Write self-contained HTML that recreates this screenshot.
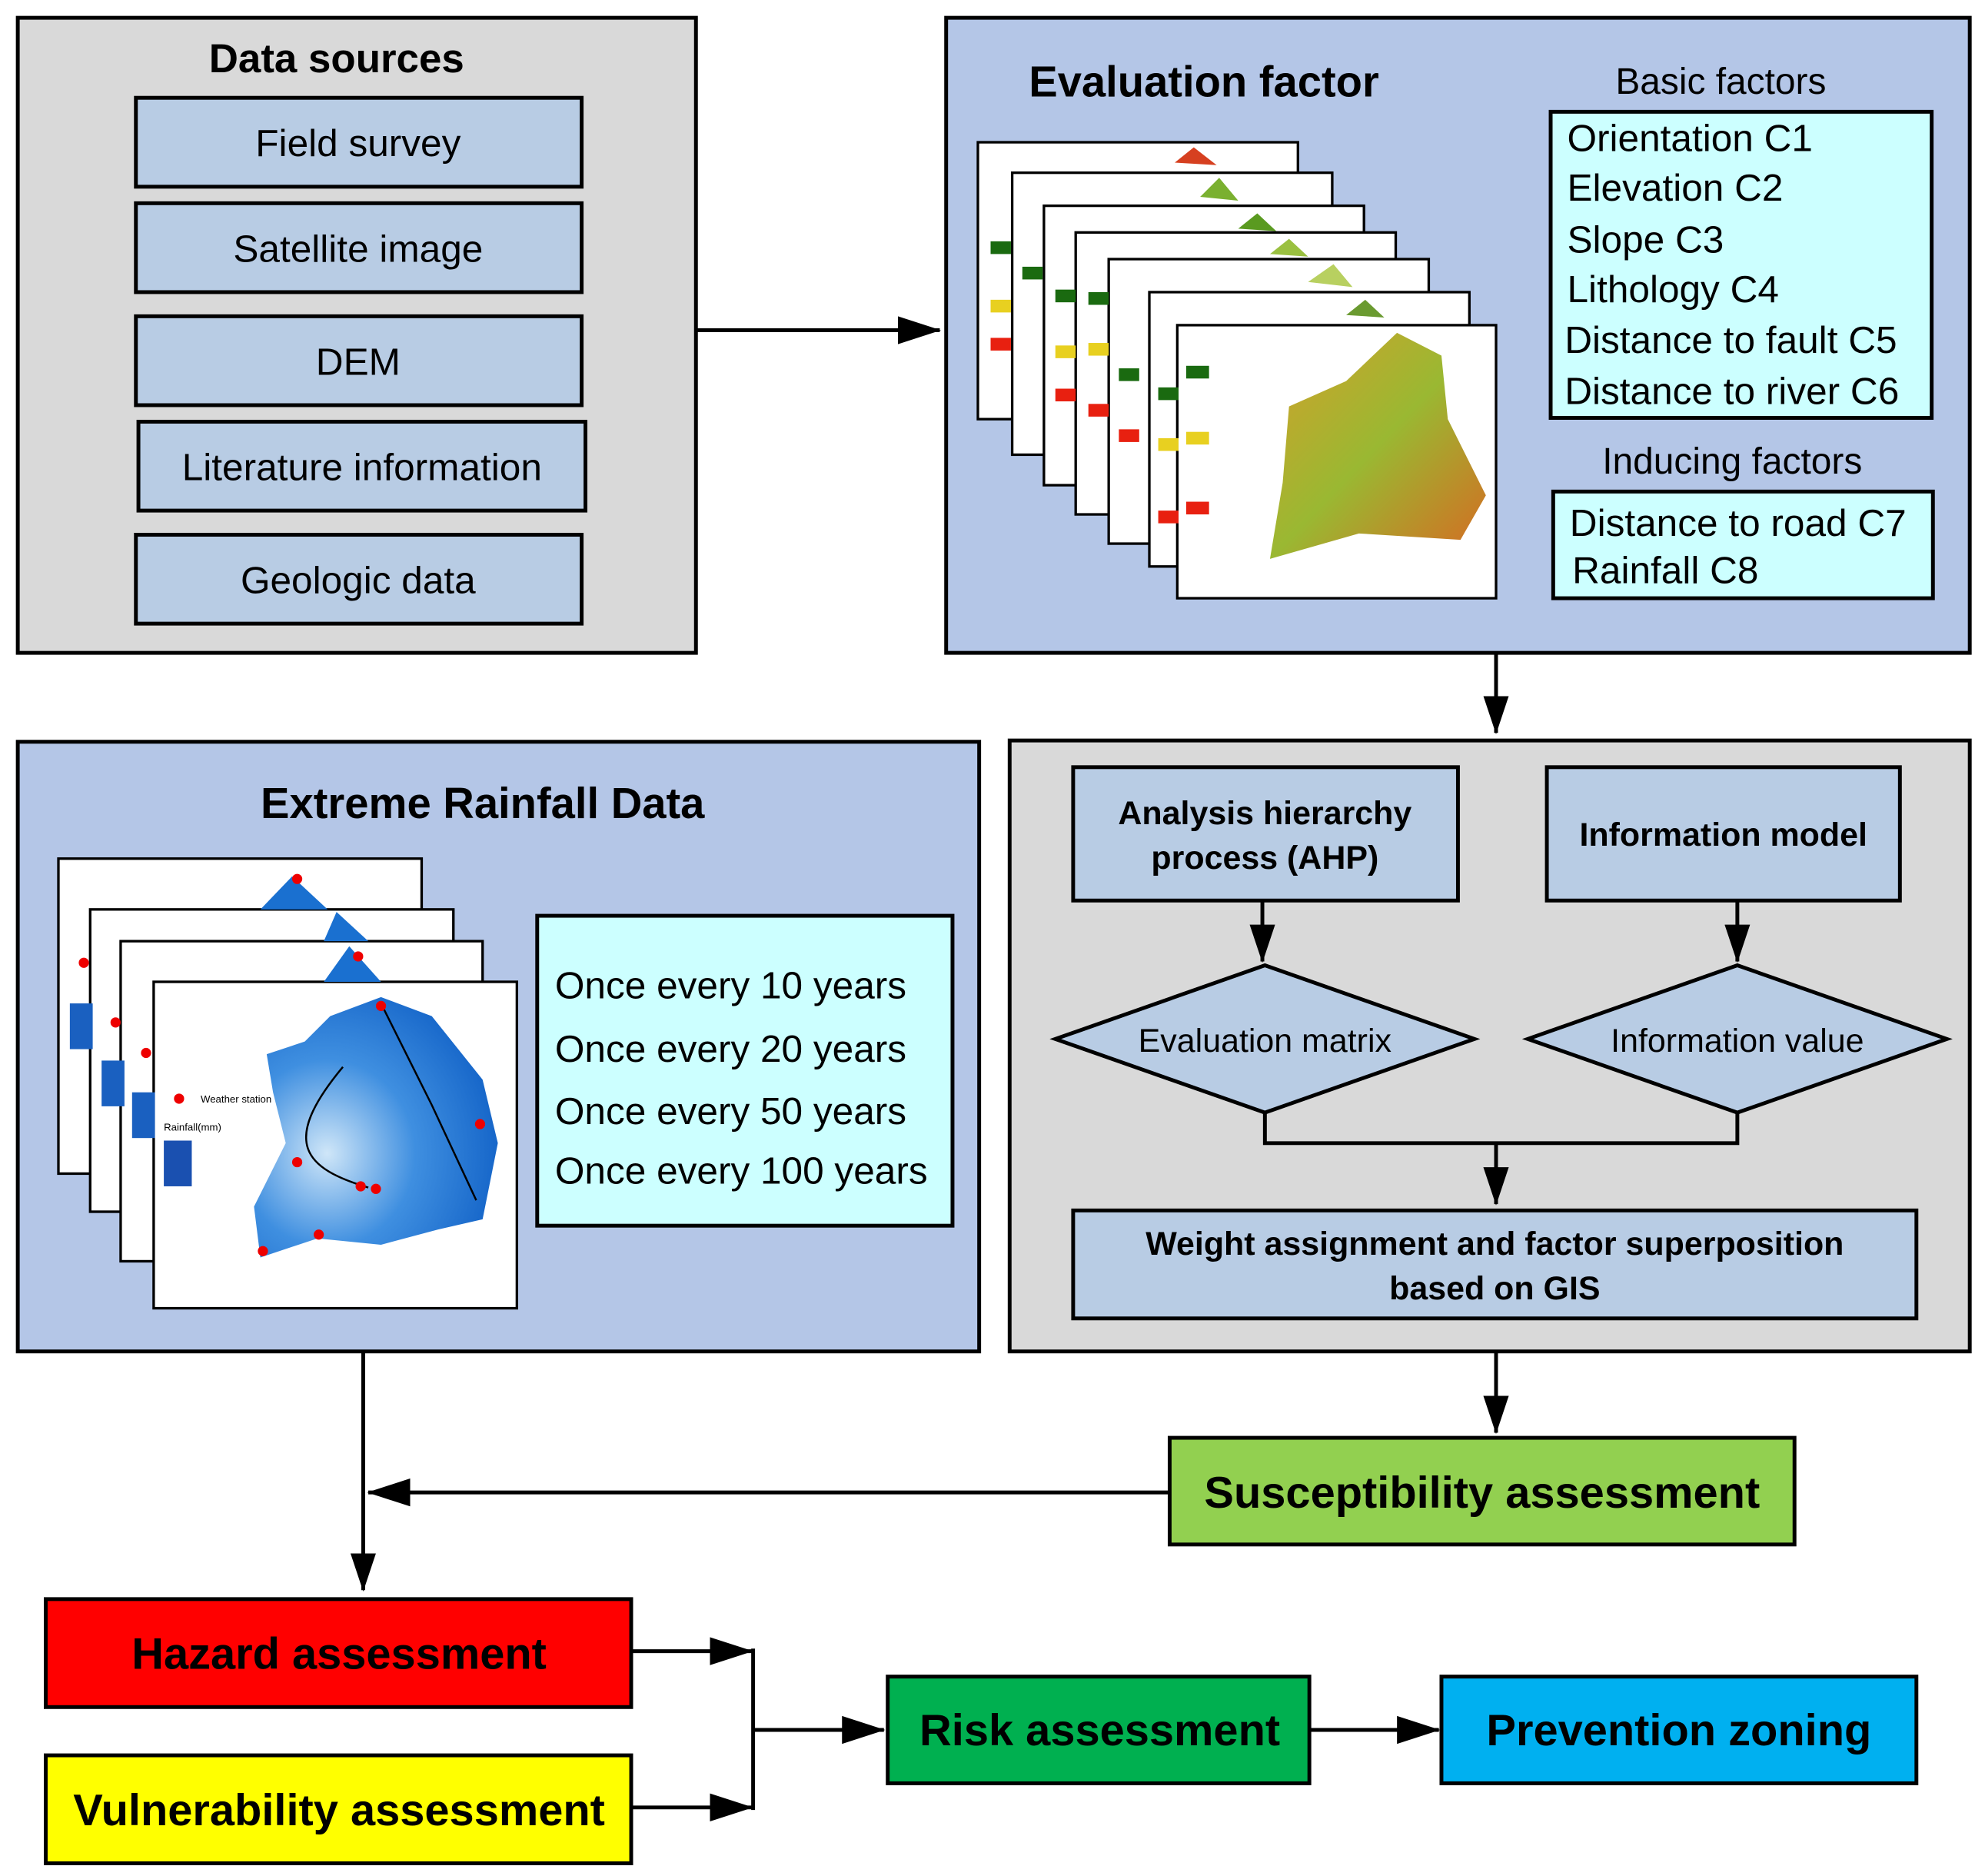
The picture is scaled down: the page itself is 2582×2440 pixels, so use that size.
<!DOCTYPE html>
<html><head><meta charset="utf-8"><style>
html,body{margin:0;padding:0;background:#fff;}
svg{display:block;}
text{font-family:"Liberation Sans",sans-serif;fill:#000;}
</style></head><body>
<svg width="2582" height="2440" viewBox="0 0 1563 1477" preserveAspectRatio="none" xmlns="http://www.w3.org/2000/svg">
<defs>
<marker id="ah" markerWidth="10" markerHeight="10" refX="9" refY="5" orient="auto" markerUnits="userSpaceOnUse" viewBox="0 0 10 10"><path d="M0,0 L10,5 L0,10 z" fill="#000"/></marker>
<marker id="ab" markerWidth="34" markerHeight="22" refX="33" refY="11" orient="auto" markerUnits="userSpaceOnUse"><path d="M0,0 L34,11 L0,22 z" fill="#000"/></marker>
<marker id="av" markerWidth="30" markerHeight="20" refX="29" refY="10" orient="auto" markerUnits="userSpaceOnUse"><path d="M0,0 L30,10 L0,20 z" fill="#000"/></marker>
<linearGradient id="gm" x1="0" y1="0" x2="1" y2="1"><stop offset="0" stop-color="#d4a02a"/><stop offset="0.5" stop-color="#9ab832"/><stop offset="1" stop-color="#d66a22"/></linearGradient>
<radialGradient id="bm" cx="0.3" cy="0.6" r="0.9"><stop offset="0" stop-color="#cfe6f8"/><stop offset="0.4" stop-color="#3f8fe0"/><stop offset="0.8" stop-color="#1464c8"/><stop offset="1" stop-color="#a8d4f4"/></radialGradient>
</defs>

<!-- Data sources -->
<rect x="14" y="14" width="534" height="500" fill="#d9d9d9" stroke="#000" stroke-width="3"/>
<text x="265" y="57" font-size="32" font-weight="bold" text-anchor="middle">Data sources</text>
<g fill="#b8cce4" stroke="#000" stroke-width="3">
<rect x="107" y="77" width="351" height="70"/>
<rect x="107" y="160" width="351" height="70"/>
<rect x="107" y="249" width="351" height="70"/>
<rect x="109" y="332" width="352" height="70"/>
<rect x="107" y="421" width="351" height="70"/>
</g>
<g font-size="30" text-anchor="middle">
<text x="282" y="123">Field survey</text>
<text x="282" y="206">Satellite image</text>
<text x="282" y="295">DEM</text>
<text x="285" y="378">Literature information</text>
<text x="282" y="467">Geologic data</text>
</g>
<line x1="548" y1="260" x2="740" y2="260" stroke="#000" stroke-width="3" marker-end="url(#ab)"/>

<!-- Evaluation factor -->
<rect x="745" y="14" width="806" height="500" fill="#b4c6e7" stroke="#000" stroke-width="3"/>
<text x="948" y="76" font-size="34" font-weight="bold" text-anchor="middle">Evaluation factor</text>
<text x="1355" y="74" font-size="29" text-anchor="middle">Basic factors</text>
<rect x="1221" y="88" width="300" height="241" fill="#ccffff" stroke="#000" stroke-width="3"/>
<g font-size="30">
<text x="1234" y="119">Orientation C1</text>
<text x="1234" y="158">Elevation C2</text>
<text x="1234" y="199">Slope C3</text>
<text x="1234" y="238">Lithology C4</text>
<text x="1232" y="278">Distance to fault C5</text>
<text x="1232" y="318">Distance to river C6</text>
</g>
<text x="1364" y="373" font-size="29" text-anchor="middle">Inducing factors</text>
<rect x="1223" y="387" width="299" height="84" fill="#ccffff" stroke="#000" stroke-width="3"/>
<text x="1236" y="422" font-size="30">Distance to road C7</text>
<text x="1238" y="459" font-size="30">Rainfall C8</text>

<g stroke="#000" stroke-width="2" fill="#fff">
<rect x="770" y="112" width="252" height="218"/>
<rect x="797" y="136" width="252" height="222"/>
<rect x="822" y="162" width="252" height="220"/>
<rect x="847" y="183" width="252" height="222"/>
<rect x="873" y="204" width="252" height="224"/>
<rect x="905" y="230" width="252" height="216"/>
<rect x="927" y="256" width="251" height="215"/>
</g>
<g>
<path d="M925,128 L940,116 L958,130 Z" fill="#d64020"/>
<path d="M945,155 L960,140 L975,158 Z" fill="#7ab030"/>
<path d="M975,180 L990,168 L1005,182 Z" fill="#5a9a20"/>
<path d="M1000,200 L1015,188 L1030,202 Z" fill="#9ac040"/>
<path d="M1030,222 L1050,208 L1065,226 Z" fill="#b8d060"/>
<path d="M1060,248 L1075,236 L1090,250 Z" fill="#6a9a30"/>
<path d="M1015,320 L1060,300 L1100,262 L1135,280 L1140,330 L1170,390 L1150,425 L1070,420 L1000,440 L1010,380 Z" fill="url(#gm)"/>
<g fill="#1a6a10"><rect x="780" y="190" width="16" height="10"/><rect x="805" y="210" width="16" height="10"/><rect x="831" y="228" width="16" height="10"/><rect x="857" y="230" width="16" height="10"/><rect x="881" y="290" width="16" height="10"/><rect x="912" y="305" width="16" height="10"/><rect x="934" y="288" width="18" height="10"/></g>
<g fill="#e8d020"><rect x="780" y="236" width="16" height="10"/><rect x="831" y="272" width="16" height="10"/><rect x="857" y="270" width="16" height="10"/><rect x="912" y="345" width="16" height="10"/><rect x="934" y="340" width="18" height="10"/></g>
<g fill="#e82010"><rect x="780" y="266" width="16" height="10"/><rect x="831" y="306" width="16" height="10"/><rect x="857" y="318" width="16" height="10"/><rect x="881" y="338" width="16" height="10"/><rect x="912" y="402" width="16" height="10"/><rect x="934" y="395" width="18" height="10"/></g>
</g>

<line x1="1178" y1="514" x2="1178" y2="577" stroke="#000" stroke-width="3" marker-end="url(#av)"/>

<!-- Extreme rainfall -->
<rect x="14" y="584" width="757" height="480" fill="#b4c6e7" stroke="#000" stroke-width="3"/>
<text x="380" y="644" font-size="34" font-weight="bold" text-anchor="middle">Extreme Rainfall Data</text>
<g stroke="#000" stroke-width="2" fill="#fff">
<rect x="46" y="676" width="286" height="248"/>
<rect x="71" y="716" width="286" height="238"/>
<rect x="95" y="741" width="285" height="252"/>
<rect x="121" y="773" width="286" height="257"/>
</g>
<path d="M205,716 L230,690 L258,716 Z" fill="#1a70d0"/>
<path d="M255,741 L265,718 L290,741 Z" fill="#1a70d0"/>
<path d="M255,773 L275,745 L300,773 Z" fill="#1a70d0"/>
<rect x="55" y="790" width="18" height="36" fill="#1a60c0"/>
<rect x="80" y="835" width="18" height="36" fill="#1a60c0"/>
<rect x="104" y="860" width="18" height="36" fill="#1a60c0"/>
<rect x="129" y="898" width="22" height="36" fill="#1a50b0"/>
<path d="M210,830 L240,820 L260,800 L300,785 L340,800 L380,850 L392,900 L380,960 L345,968 L300,980 L250,975 L205,990 L200,950 L225,900 L215,860 Z" fill="url(#bm)"/>
<path d="M300,790 L340,870 L375,945" fill="none" stroke="#000" stroke-width="1.5"/>
<path d="M270,840 C220,900 240,920 290,935" fill="none" stroke="#000" stroke-width="1.5"/>
<g fill="#e00">
<circle cx="234" cy="692" r="4"/><circle cx="66" cy="758" r="4"/><circle cx="91" cy="805" r="4"/><circle cx="115" cy="829" r="4"/><circle cx="282" cy="753" r="4"/><circle cx="300" cy="792" r="4"/><circle cx="378" cy="885" r="4"/><circle cx="141" cy="865" r="4"/><circle cx="234" cy="915" r="4"/><circle cx="284" cy="934" r="4"/><circle cx="296" cy="936" r="4"/><circle cx="251" cy="972" r="4"/><circle cx="207" cy="985" r="4"/>
</g>
<text x="158" y="868" font-size="8">Weather station</text>
<text x="129" y="890" font-size="8">Rainfall(mm)</text>
<rect x="423" y="721" width="327" height="244" fill="#ccffff" stroke="#000" stroke-width="3"/>
<g font-size="30">
<text x="437" y="786">Once every 10 years</text>
<text x="437" y="836">Once every 20 years</text>
<text x="437" y="885">Once every 50 years</text>
<text x="437" y="932">Once every 100 years</text>
</g>

<!-- Gray method box -->
<rect x="795" y="583" width="756" height="481" fill="#d9d9d9" stroke="#000" stroke-width="3"/>
<rect x="845" y="604" width="303" height="105" fill="#b8cce4" stroke="#000" stroke-width="3"/>
<text x="996" y="649" font-size="26" font-weight="bold" text-anchor="middle">Analysis hierarchy</text>
<text x="996" y="684" font-size="26" font-weight="bold" text-anchor="middle">process (AHP)</text>
<rect x="1218" y="604" width="278" height="105" fill="#b8cce4" stroke="#000" stroke-width="3"/>
<text x="1357" y="666" font-size="26" font-weight="bold" text-anchor="middle">Information model</text>
<line x1="994" y1="709" x2="994" y2="757" stroke="#000" stroke-width="3" marker-end="url(#av)"/>
<line x1="1368" y1="709" x2="1368" y2="757" stroke="#000" stroke-width="3" marker-end="url(#av)"/>
<polygon points="831,818 996,760 1161,818 996,876" fill="#b8cce4" stroke="#000" stroke-width="3"/>
<polygon points="1203,818 1368,760 1533,818 1368,876" fill="#b8cce4" stroke="#000" stroke-width="3"/>
<text x="996" y="828" font-size="26" text-anchor="middle">Evaluation matrix</text>
<text x="1368" y="828" font-size="26" text-anchor="middle">Information value</text>
<polyline points="996,876 996,900 1368,900 1368,876" fill="none" stroke="#000" stroke-width="3"/>
<line x1="1178" y1="900" x2="1178" y2="948" stroke="#000" stroke-width="3" marker-end="url(#av)"/>
<rect x="845" y="953" width="664" height="85" fill="#b8cce4" stroke="#000" stroke-width="3"/>
<text x="1177" y="988" font-size="26" font-weight="bold" text-anchor="middle">Weight assignment and factor superposition</text>
<text x="1177" y="1023" font-size="26" font-weight="bold" text-anchor="middle">based on GIS</text>

<line x1="1178" y1="1064" x2="1178" y2="1128" stroke="#000" stroke-width="3" marker-end="url(#av)"/>
<rect x="921" y="1132" width="492" height="84" fill="#92d050" stroke="#000" stroke-width="3"/>
<text x="1167" y="1187" font-size="35" font-weight="bold" text-anchor="middle">Susceptibility assessment</text>
<line x1="921" y1="1175" x2="290" y2="1175" stroke="#000" stroke-width="3" marker-end="url(#ab)"/>
<line x1="286" y1="1064" x2="286" y2="1252" stroke="#000" stroke-width="3" marker-end="url(#av)"/>

<rect x="36" y="1259" width="461" height="85" fill="#ff0000" stroke="#000" stroke-width="3"/>
<text x="267" y="1314" font-size="35" font-weight="bold" text-anchor="middle">Hazard assessment</text>
<rect x="36" y="1382" width="461" height="85" fill="#ffff00" stroke="#000" stroke-width="3"/>
<text x="267" y="1437" font-size="35" font-weight="bold" text-anchor="middle">Vulnerability assessment</text>
<line x1="497" y1="1300" x2="592" y2="1300" stroke="#000" stroke-width="3" marker-end="url(#ab)"/>
<line x1="497" y1="1423" x2="592" y2="1423" stroke="#000" stroke-width="3" marker-end="url(#ab)"/>
<line x1="593" y1="1298" x2="593" y2="1425" stroke="#000" stroke-width="3"/>
<line x1="593" y1="1362" x2="696" y2="1362" stroke="#000" stroke-width="3" marker-end="url(#ab)"/>
<rect x="699" y="1320" width="332" height="84" fill="#00b050" stroke="#000" stroke-width="3"/>
<text x="866" y="1374" font-size="35" font-weight="bold" text-anchor="middle">Risk assessment</text>
<line x1="1031" y1="1362" x2="1133" y2="1362" stroke="#000" stroke-width="3" marker-end="url(#ab)"/>
<rect x="1135" y="1320" width="374" height="84" fill="#00b0f0" stroke="#000" stroke-width="3"/>
<text x="1322" y="1374" font-size="35" font-weight="bold" text-anchor="middle">Prevention  zoning</text>
</svg>
</body></html>
